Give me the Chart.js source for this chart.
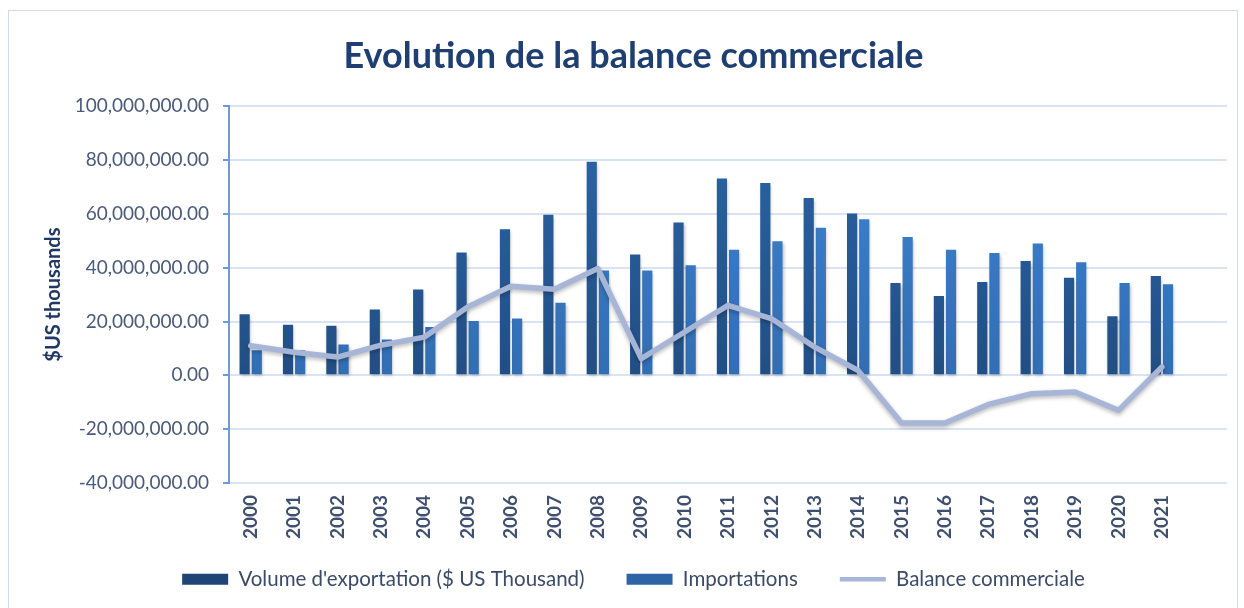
<!DOCTYPE html>
<html>
<head>
<meta charset="utf-8">
<title>Evolution de la balance commerciale</title>
<script src="https://cdn.jsdelivr.net/npm/chart.js@4.4.1/dist/chart.umd.min.js"></script>
<style>
  html, body { margin: 0; padding: 0; background: #fff; }
  #wrap { position: relative; width: 1244px; height: 608px; }
  #frame { position: absolute; left: 8px; top: 10px; width: 1228px; height: 600px; border: 1px solid #d5dbe6; }
  canvas { position: absolute; left: 0; top: 0; }
</style>
</head>
<body>
<div id="wrap">
  <div id="frame"></div>
  <canvas id="chart" width="1244" height="608"></canvas>
</div>
<script>
// Données ($US thousands)
const years = ['2000', '2001', '2002', '2003', '2004', '2005', '2006', '2007', '2008', '2009', '2010',
               '2011', '2012', '2013', '2014', '2015', '2016', '2017', '2018', '2019', '2020', '2021'];

const exportations = [22700000, 18800000, 18400000, 24500000, 31900000, 45600000, 54300000, 59700000,
                      79400000, 44900000, 56800000, 73100000, 71500000, 65900000, 60100000, 34300000,
                      29500000, 34700000, 42500000, 36300000, 22000000, 36900000];

const importations = [9300000, 9300000, 11500000, 13300000, 18000000, 20200000, 21100000, 27000000,
                      39000000, 39000000, 40900000, 46700000, 49800000, 54800000, 58000000, 51400000,
                      46700000, 45500000, 49000000, 42000000, 34300000, 33800000];

const balance = [11000000, 8600000, 6800000, 11200000, 14200000, 25400000, 33100000, 32000000,
                 39700000, 6200000, 16100000, 26000000, 21100000, 10500000, 1800000, -17700000,
                 -17700000, -10800000, -6800000, -6200000, -13000000, 3100000];

const yTicks = { min: -40000000, max: 100000000, step: 20000000 };

// une catégorie vide à droite, comme dans le classeur Excel
const labels = years.concat(['']);

const FONT = 'Lato';

function vgrad(top, bottom) {
    return function (c) {
        const area = c.chart.chartArea;
        if (!area) return bottom;
        const g = c.chart.ctx.createLinearGradient(0, area.top, 0, area.bottom);
        g.addColorStop(0, top);
        g.addColorStop(1, bottom);
        return g;
    };
}

// ombre légère sous la courbe et les barres
const shadowPlugin = {
    id: 'shadow',
    beforeDatasetDraw(chart, args) {
        const ctx = chart.ctx;
        ctx.save();
        if (args.meta.type === 'line') {
            ctx.shadowColor = 'rgba(0,0,0,0.28)';
            ctx.shadowBlur = 4;
            ctx.shadowOffsetY = 2;
        } else {
            ctx.shadowColor = 'rgba(0,0,0,0.25)';
            ctx.shadowBlur = 3;
            ctx.shadowOffsetX = 1;
            ctx.shadowOffsetY = 2;
        }
    },
    afterDatasetDraw(chart) {
        chart.ctx.restore();
    }
};

const chart = new Chart(document.getElementById('chart'), {
    data: {
        labels: labels,
        datasets: [
            {
                type: 'bar',
                label: "Volume d'exportation ($ US Thousand)",
                data: exportations,
                backgroundColor: vgrad('#2c66a8', '#1d4576'),
                categoryPercentage: 0.56,
                barPercentage: 0.84,
                order: 2
            },
            {
                type: 'bar',
                label: 'Importations',
                data: importations,
                backgroundColor: vgrad('#3f86d6', '#2c64a5'),
                categoryPercentage: 0.56,
                barPercentage: 0.84,
                order: 2
            },
            {
                type: 'line',
                label: 'Balance commerciale',
                data: balance,
                borderColor: '#a7b5d6',
                backgroundColor: '#a7b5d6',
                borderWidth: 5.5,
                borderCapStyle: 'round',
                borderJoinStyle: 'round',
                pointRadius: 0,
                tension: 0,
                order: 1
            }
        ]
    },
    options: {
        responsive: false,
        animation: false,
        layout: { padding: { left: 40, right: 17, top: 0, bottom: 8.5 } },
        plugins: {
            title: {
                display: true,
                text: 'Evolution de la balance commerciale',
                color: '#1f3f72',
                font: { family: FONT, size: 36, weight: 'bold' },
                padding: { top: 35, bottom: 28 }
            },
            legend: {
                position: 'bottom',
                labels: {
                    usePointStyle: true,
                    pointStyleWidth: 46,
                    boxHeight: 11,
                    color: '#3b4a66',
                    font: { family: FONT, size: 20.5 },
                    padding: 42,
                    sort: (a, b) => a.datasetIndex - b.datasetIndex,
                    // rectangle pour les barres, trait pour la balance
                    generateLabels: chart => Chart.defaults.plugins.legend.labels.generateLabels(chart).map(item => {
                        item.pointStyle = item.datasetIndex === 2 ? 'line' : 'rect';
                        if (item.datasetIndex === 2) item.lineWidth = 4.5;
                        return item;
                    })
                }
            },
            tooltip: { enabled: false }
        },
        scales: {
            x: {
                grid: { display: false },
                border: { display: false },
                ticks: {
                    minRotation: 90,
                    maxRotation: 90,
                    autoSkip: false,
                    color: '#3f4f6e',
                    font: { family: FONT, size: 19, weight: 'bold' },
                    padding: 4
                },
                afterFit: s => {
                    s.height = 44;
                    // les années dépassent un peu la boîte de l'axe : pas de découpe
                    s._computeLabelArea = () => undefined;
                }
            },
            y: {
                min: yTicks.min,
                max: yTicks.max,
                ticks: {
                    stepSize: yTicks.step,
                    color: '#4a5a7a',
                    font: { family: FONT, size: 19 },
                    padding: 14,
                    callback: v => v.toLocaleString('en-US', { minimumFractionDigits: 2, maximumFractionDigits: 2 })
                },
                grid: { color: '#d8e4f4', lineWidth: 2, tickLength: 6, tickColor: '#6f9ad6' },
                border: { color: '#6f9ad6', width: 2 },
                title: {
                    display: true,
                    text: '$US thousands',
                    color: '#1f3864',
                    font: { family: FONT, size: 20, weight: 'bold' },
                    padding: { top: 2, bottom: 0 }
                },
                afterFit: s => { s.width = 189; }
            }
        }
    },
    plugins: [shadowPlugin]
});
</script>
</body>
</html>
